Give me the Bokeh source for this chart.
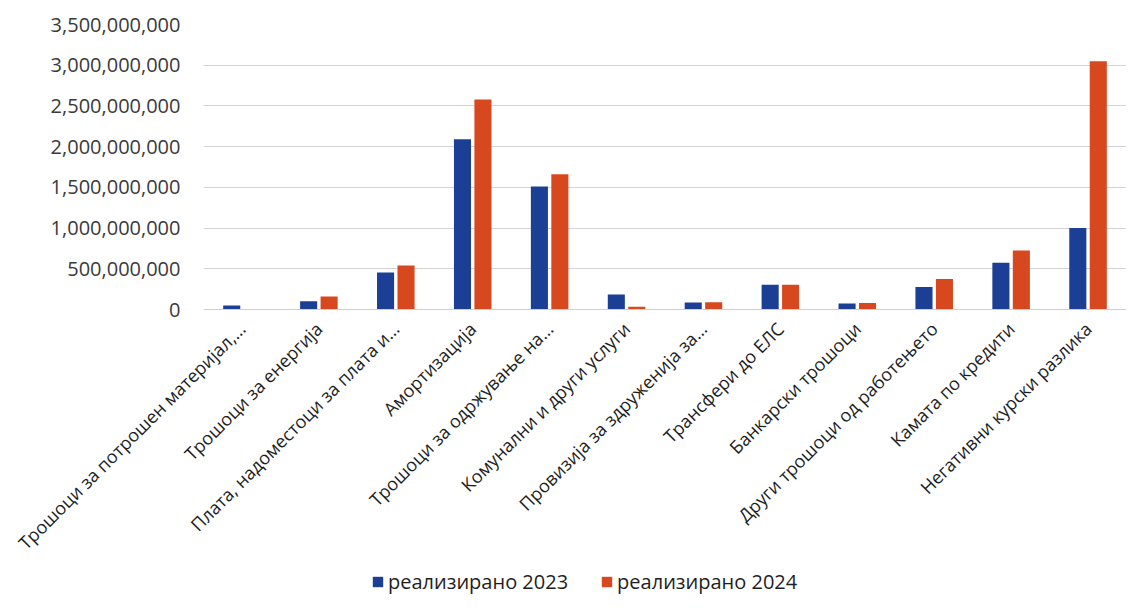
from bokeh.plotting import figure
from bokeh.layouts import column
from bokeh.models import ColumnDataSource, FactorRange, Legend, LegendItem, NumeralTickFormatter
from bokeh.transform import dodge
from bokeh.embed import file_html
from bokeh.resources import INLINE
from math import pi

categories = [
    "Трошоци за потрошен материјал,…",
    "Трошоци за енергија",
    "Плата, надоместоци за плата и…",
    "Амортизација",
    "Трошоци за одржување на…",
    "Комунални и други услуги",
    "Провизија за здруженија за…",
    "Трансфери до ЕЛС",
    "Банкарски трошоци",
    "Други трошоци од работењето",
    "Камата по кредити",
    "Негативни курски разлика",
]
real_2023 = [50e6, 100e6, 455e6, 2090e6, 1510e6, 185e6, 85e6, 305e6, 75e6, 275e6, 575e6, 1000e6]
real_2024 = [5e6, 160e6, 540e6, 2580e6, 1660e6, 35e6, 88e6, 305e6, 80e6, 375e6, 725e6, 3050e6]
series_names = ["реализирано 2023", "реализирано 2024"]
y_ticks = [0, 5e8, 1e9, 1.5e9, 2e9, 2.5e9, 3e9, 3.5e9]
colors = ["#1a3f95", "#d8481e"]

src = ColumnDataSource(dict(cat=categories, a=real_2023, b=real_2024))

p = figure(x_range=FactorRange(*categories), y_range=(0, 3.5e9),
           frame_width=923, frame_height=285, output_backend="svg", toolbar_location=None,
           min_border_left=203, min_border_top=24, min_border_right=0, min_border_bottom=250)

p.vbar(x=dodge("cat", -0.133, range=p.x_range), top="a", width=0.222, source=src,
       color=colors[0], line_color=None)
p.vbar(x=dodge("cat", 0.133, range=p.x_range), top="b", width=0.222, source=src,
       color=colors[1], line_color=None)

p.x_range.range_padding = 0.0
p.yaxis.formatter = NumeralTickFormatter(format="0,0")
p.yaxis.ticker = y_ticks
p.yaxis.axis_line_color = None
p.yaxis.major_tick_line_color = None
p.yaxis.minor_tick_line_color = None
p.yaxis.major_label_text_font = "Open Sans"
p.yaxis.major_label_text_font_size = "20px"
p.yaxis.major_label_text_color = "#3a3a3a"
p.yaxis.major_label_standoff = 17

p.xaxis.major_label_orientation = pi / 4
p.xaxis.major_label_text_font = "Open Sans"
p.xaxis.major_label_text_font_size = "18px"
p.xaxis.major_label_text_color = "#1e1e1e"
p.xaxis.axis_line_color = "#d0d0d0"
p.xaxis.major_tick_line_color = None
p.xaxis.major_label_standoff = 10

p.xgrid.grid_line_color = None
p.ygrid.grid_line_color = "#d4d4d8"
p.outline_line_color = None

# legend in its own strip below the chart (its frame is aligned with the chart's frame)
lg = figure(width=1126, height=32, x_range=(0, 1), y_range=(0, 1),
            output_backend="svg", toolbar_location=None,
            min_border_left=0, min_border_right=0, min_border_top=0, min_border_bottom=0)
lg.axis.visible = False
lg.grid.visible = False
lg.outline_line_color = None
g1 = lg.vbar(x=[5], bottom=[4], top=[5], width=0.5, color=colors[0], line_color=None)
g2 = lg.vbar(x=[5], bottom=[4], top=[5], width=0.5, color=colors[1], line_color=None)
legend = Legend(items=[LegendItem(label=series_names[0], renderers=[g1]),
                       LegendItem(label=series_names[1], renderers=[g2])],
                orientation="horizontal", location=(168, 2),
                label_text_font="Open Sans", label_text_font_size="20px",
                label_text_color="#1e1e1e", glyph_width=13, glyph_height=13,
                label_standoff=4, spacing=32, border_line_color=None,
                background_fill_alpha=0, padding=1, margin=0)
lg.add_layout(legend, "center")

layout = column(p, lg, spacing=0)
open("out.html", "w").write(file_html(layout, INLINE))
